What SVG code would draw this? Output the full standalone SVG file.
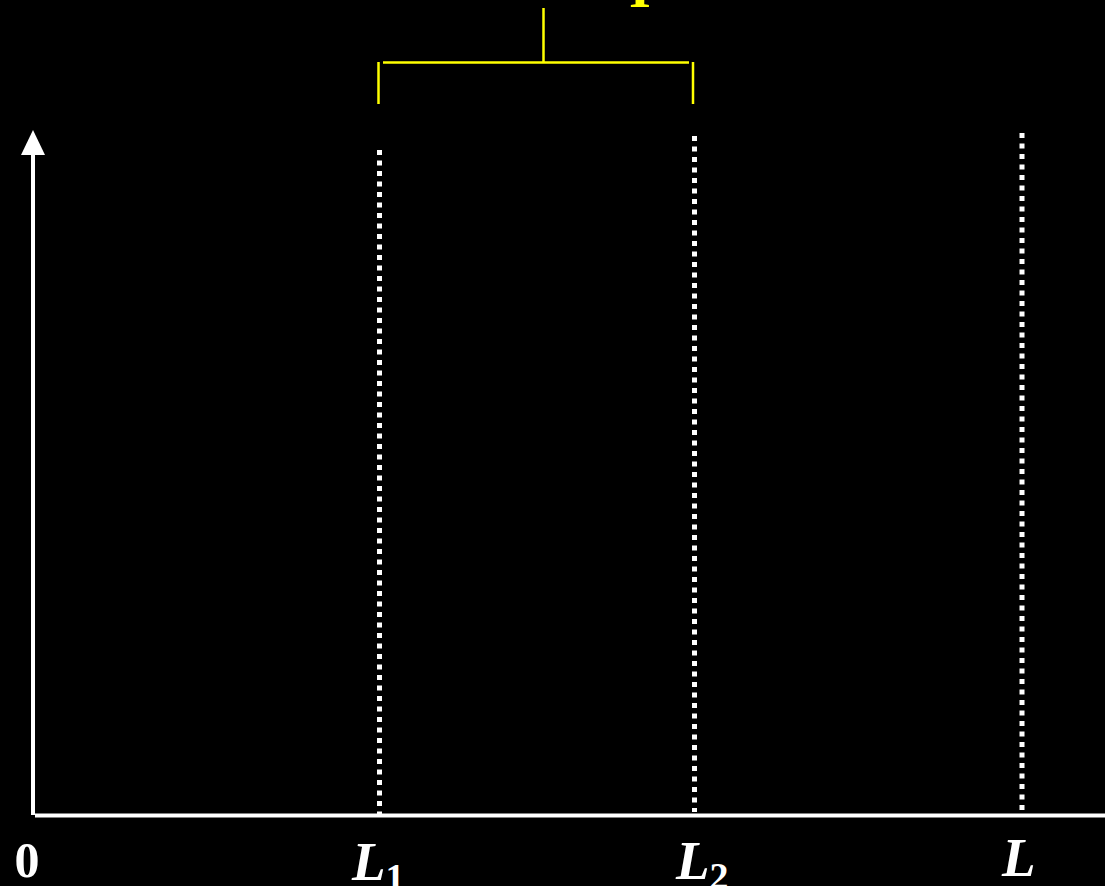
<svg xmlns="http://www.w3.org/2000/svg" width="1105" height="886" viewBox="0 0 1105 886">
<style>
.ax{stroke:#fff;stroke-width:4;fill:none}
.dot{stroke:#fff;stroke-width:5;stroke-dasharray:5 5.5;fill:none}
.br{stroke:#ffff00;stroke-width:2.5;fill:none}
.lab{font-family:"Liberation Serif",serif;font-weight:bold;fill:#fff}
</style>
<rect width="1105" height="886" fill="#000"/>
<g id="axes">
<line class="ax" x1="33" y1="152" x2="33" y2="815"/>
<polygon points="33,130 21,155 45,155" fill="#fff"/>
<line class="ax" x1="35" y1="815.5" x2="1105" y2="815.5"/>
</g>
<g id="connectors">
<line class="dot" x1="379.5" y1="150" x2="379.5" y2="815"/>
<line class="dot" x1="694.5" y1="136" x2="694.5" y2="812"/>
<line class="dot" x1="1022" y1="133" x2="1022" y2="812"/>
</g>
<g id="bracket">
<line class="br" x1="383" y1="62.5" x2="689" y2="62.5"/>
<line class="br" x1="378.5" y1="62" x2="378.5" y2="104"/>
<line class="br" x1="693" y1="62" x2="693" y2="104"/>
<line class="br" x1="543.5" y1="8" x2="543.5" y2="63"/>
<text x="640" y="7" text-anchor="middle" font-family="Liberation Serif,serif" font-weight="bold" font-size="56" fill="#ffff00">I</text>
</g>
<g id="labels">
<text class="lab" x="27" y="877" text-anchor="middle" font-size="50">0</text>
<text class="lab" x="352" y="880" font-size="55" font-style="italic">L<tspan font-size="38" font-style="normal" dy="10">1</tspan></text>
<text class="lab" x="676" y="879" font-size="55" font-style="italic">L<tspan font-size="38" font-style="normal" dy="10">2</tspan></text>
<text class="lab" x="1002" y="876" font-size="55" font-style="italic">L</text>
</g>
</svg>
